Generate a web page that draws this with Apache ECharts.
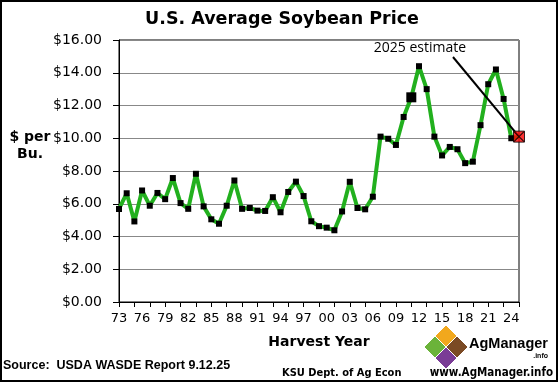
<!DOCTYPE html>
<html><head><meta charset="utf-8">
<script src="https://cdn.jsdelivr.net/npm/echarts@6/dist/echarts.min.js"></script>
<style>html,body{margin:0;padding:0;background:#fff}#c{width:558px;height:382px}</style>
</head><body><div id="c"></div>
<script>
var years = ['1973','1974','1975','1976','1977','1978','1979','1980','1981','1982',
  '1983','1984','1985','1986','1987','1988','1989','1990','1991','1992',
  '1993','1994','1995','1996','1997','1998','1999','2000','2001','2002',
  '2003','2004','2005','2006','2007','2008','2009','2010','2011','2012',
  '2013','2014','2015','2016','2017','2018','2019','2020','2021','2022',
  '2023','2024','2025'];
var prices = [5.68,6.64,4.92,6.81,5.88,6.66,6.28,7.57,6.04,5.69,
  7.83,5.84,5.05,4.78,5.88,7.42,5.69,5.74,5.58,5.56,
  6.40,5.48,6.72,7.35,6.47,4.93,4.63,4.54,4.38,5.53,
  7.34,5.74,5.66,6.43,10.10,9.97,9.59,11.30,12.50,14.40,
  13.00,10.10,8.95,9.47,9.33,8.48,8.57,10.80,13.30,14.20,
  12.40,10.00,10.10];
var estimateYear = '2025';
var highlightYear = '2011';
var title = 'U.S. Average Soybean Price';

var estIdx = years.indexOf(estimateYear);
var lineData = prices.map(function(v, i){
  if (years[i] === highlightYear) return {value: v, symbolSize: 10};
  if (i === estIdx) return {value: v, symbolSize: 0};
  return v;
});
var estData = years.map(function(y, i){ return i === estIdx ? prices[i] : '-'; });

var chart = echarts.init(document.getElementById('c'), null, {renderer:'canvas'});
var FONT = 'DejaVu Sans';
chart.setOption({
  animation: false,
  backgroundColor: '#fff',
  grid: {left: 119, right: 39, top: 40, bottom: 80, show: true, borderColor: '#000', borderWidth: 1},
  xAxis: {
    type: 'category', data: years, boundaryGap: false,
    axisLine: {lineStyle: {color: '#000', width: 1}},
    axisTick: {interval: 1, length: 5, lineStyle: {color: '#000'}},
    axisLabel: {interval: 2, margin: 10, color: '#000', fontFamily: FONT, fontSize: 13,
      formatter: function(v){ return v.slice(2); }},
    name: 'Harvest Year', nameLocation: 'middle', nameGap: 33,
    nameTextStyle: {fontFamily: FONT, fontWeight: 'bold', fontSize: 14, color: '#000'}
  },
  yAxis: {
    type: 'value', min: 0, max: 16, interval: 2,
    axisLine: {show: true, lineStyle: {color: '#000'}},
    axisTick: {show: true, length: 6, lineStyle: {color: '#000'}},
    splitLine: {lineStyle: {color: '#888', width: 1}},
    axisLabel: {margin: 17, color: '#000', fontFamily: FONT, fontSize: 14,
      formatter: function(v){ return '$' + v.toFixed(2); }}
  },
  series: [{
    type: 'line', data: lineData, symbol: 'rect', symbolSize: 6, showAllSymbol: true,
    lineStyle: {color: '#22B01E', width: 4},
    itemStyle: {color: '#000'},
    z: 3,
    markLine: {
      silent: true, symbol: ['none', 'arrow'], symbolSize: [0, 10],
      lineStyle: {color: '#000', width: 2, type: 'solid'},
      label: {show: false},
      data: [[{x: 453, y: 57}, {coord: [estimateYear, prices[estIdx]]}]]
    }
  }, {
    type: 'scatter', data: estData, symbol: 'rect', symbolSize: 11,
    itemStyle: {color: '#FF0000', borderColor: '#000', borderWidth: 1}, z: 5
  }, {
    type: 'scatter', data: estData, symbol: 'path://M0,0L10,10M10,0L0,10', symbolSize: 10,
    itemStyle: {color: 'rgba(0,0,0,0)', borderColor: '#000', borderWidth: 1.3}, z: 6
  }],
  graphic: [
    {type: 'rect', shape: {x: 1, y: 1, width: 556, height: 380}, style: {fill: null, stroke: '#000', lineWidth: 2}, silent: true},
    {type: 'text', x: 282, y: 19, style: {text: title, fontFamily: FONT, fontWeight: 'bold', fontSize: 17.5, fill: '#000', align: 'center', verticalAlign: 'middle'}},
    {type: 'text', x: 30, y: 146, style: {text: '$ per\nBu.', fontFamily: FONT, fontWeight: 'bold', fontSize: 14, fill: '#000', align: 'center', verticalAlign: 'middle', lineHeight: 17}},
    {type: 'text', x: 420, y: 48, style: {text: '2025 estimate', fontFamily: 'Open Sans', fontSize: 14, fill: '#000', align: 'center', verticalAlign: 'middle'}},
    {type: 'text', x: 3, y: 366, style: {text: 'Source:  USDA WASDE Report 9.12.25', fontFamily: 'Liberation Sans', fontWeight: 'bold', fontSize: 12.5, fill: '#000', verticalAlign: 'middle'}},
    {type: 'text', x: 282, y: 373, style: {text: 'KSU Dept. of Ag Econ', fontFamily: 'DejaVu Sans Condensed', fontWeight: 'bold', fontSize: 11, fill: '#000', verticalAlign: 'middle'}},
    {type: 'text', x: 553, y: 373, style: {text: 'www.AgManager.info', fontFamily: 'DejaVu Sans Condensed', fontWeight: 'bold', fontSize: 11.5, fill: '#000', align: 'right', verticalAlign: 'middle'}},
    {type: 'polygon', shape: {points: [[446,325],[457,336],[446,347],[435,336]]}, style: {fill: '#F2A81D', stroke: '#fff', lineWidth: 1}},
    {type: 'polygon', shape: {points: [[435,336],[446,347],[435,358],[424,347]]}, style: {fill: '#6BB33A', stroke: '#fff', lineWidth: 1}},
    {type: 'polygon', shape: {points: [[457,336],[468,347],[457,358],[446,347]]}, style: {fill: '#7B4A24', stroke: '#fff', lineWidth: 1}},
    {type: 'polygon', shape: {points: [[446,347],[457,358],[446,369],[435,358]]}, style: {fill: '#7A3C96', stroke: '#fff', lineWidth: 1}},
    {type: 'text', x: 469, y: 344, style: {text: 'AgManager', fontFamily: 'Liberation Sans', fontWeight: 'bold', fontSize: 14.5, fill: '#000', verticalAlign: 'middle'}},
    {type: 'text', x: 548, y: 356, style: {text: '.info', fontFamily: 'Liberation Sans', fontWeight: 'bold', fontSize: 7, fill: '#000', align: 'right', verticalAlign: 'middle'}}
  ]
});
</script></body></html>
